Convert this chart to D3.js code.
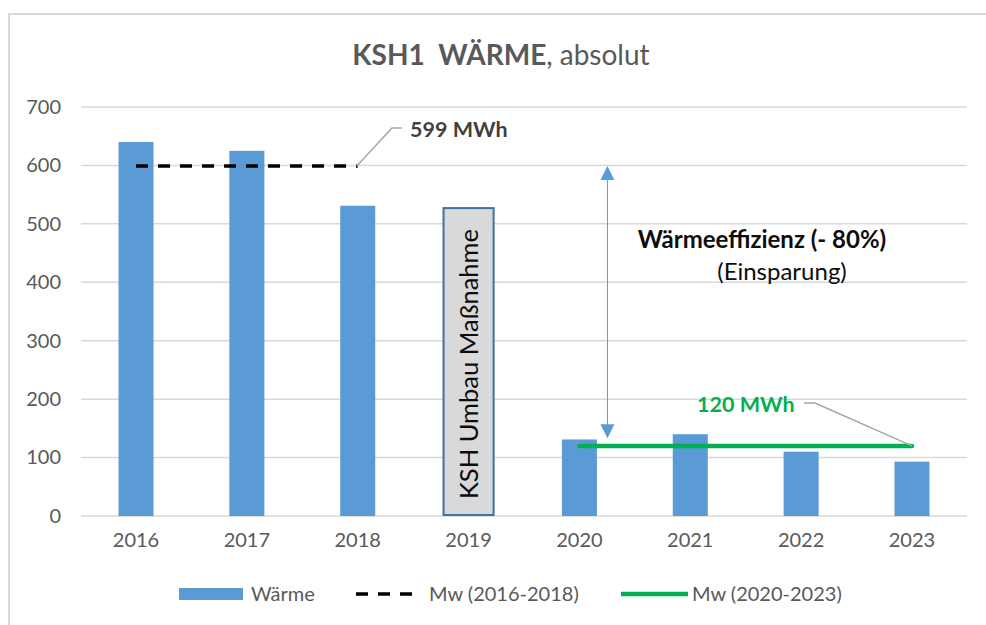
<!DOCTYPE html>
<html>
<head>
<meta charset="utf-8">
<title>KSH1 Wärme</title>
<script src="https://cdnjs.cloudflare.com/ajax/libs/d3/7.8.5/d3.min.js"></script>
<style>
    body { margin: 0; background: #fff; }
    text { font-family: Lato, 'Open Sans', sans-serif; }
</style>
</head>
<body>
<div id="chart"></div>
<script>
// ---------------- data ----------------
var years = ["2016", "2017", "2018", "2019", "2020", "2021", "2022", "2023"];
var waerme = [640, 625, 531, null, 131, 140, 110, 93];
var mean1 = 599;            // Mw (2016-2018)
var mean1Years = ["2016", "2018"];
var mean2 = 120;            // Mw (2020-2023)
var mean2Years = ["2020", "2023"];
var umbauYear = "2019";
var umbauValue = 527;       // height of the "KSH Umbau Maßnahme" box
var yTicks = [0, 100, 200, 300, 400, 500, 600, 700];

// ---------------- box ----------------
var W = 986, H = 625;
var svg = d3.select("#chart").append("svg")
    .attr("width", W)
    .attr("height", H);

// outer chart border
svg.append("rect")
    .attr("x", 9).attr("y", 14)
    .attr("width", W + 20).attr("height", H + 20)
    .attr("fill", "#fff")
    .attr("stroke", "#d9d9d9")
    .attr("stroke-width", 2);

// ---------------- scales ----------------
var x = d3.scaleBand()
    .domain(years)
    .range([80.6, 967.4])
    .paddingInner(0.684)
    .paddingOuter(0.342);

var y = d3.scaleLinear()
    .domain([0, 700])
    .range([516, 107]);

function cx(yr) { return x(yr) + x.bandwidth() / 2; }

// gridlines
svg.append("g").selectAll("line")
    .data(yTicks)
    .enter().append("line")
    .attr("x1", 81).attr("x2", 967)
    .attr("y1", function (d) { return y(d); })
    .attr("y2", function (d) { return y(d); })
    .attr("stroke", "#d9d9d9")
    .attr("stroke-width", 1.5);

// y axis labels
var yAxis = d3.axisLeft(y).tickValues(yTicks).tickSize(0).tickPadding(0);
svg.append("g")
    .attr("transform", "translate(61,0)")
    .call(yAxis)
    .call(function (g) { g.select(".domain").remove(); })
    .selectAll("text")
    .attr("font-family", "Lato, sans-serif")
    .attr("font-size", "20px")
    .attr("fill", "#595959");

// x axis labels
var xAxis = d3.axisBottom(x).tickSize(0).tickPadding(0);
svg.append("g")
    .attr("transform", "translate(0,533)")
    .call(xAxis)
    .call(function (g) { g.select(".domain").remove(); })
    .selectAll("text")
    .attr("font-family", "Lato, sans-serif")
    .attr("font-size", "20px")
    .attr("fill", "#595959");

// ---------------- bars ----------------
var barData = years.map(function (yr, i) { return { year: yr, value: waerme[i] }; })
    .filter(function (d) { return d.value != null; });

svg.append("g").selectAll("rect")
    .data(barData)
    .enter().append("rect")
    .attr("x", function (d) { return x(d.year); })
    .attr("width", x.bandwidth())
    .attr("y", function (d) { return y(d.value); })
    .attr("height", function (d) { return y(0) - y(d.value); })
    .attr("fill", "#5b9bd5");

// 2019 box
var boxW = x.bandwidth() * 1.43;
svg.append("rect")
    .attr("x", cx(umbauYear) - boxW / 2)
    .attr("y", y(umbauValue))
    .attr("width", boxW)
    .attr("height", y(0) - y(umbauValue) - 1)
    .attr("fill", "#d9d9d9")
    .attr("stroke", "#41719c")
    .attr("stroke-width", 2);

svg.append("text")
    .attr("transform", "translate(" + (cx(umbauYear) + 9) + "," + ((y(umbauValue) + y(0)) / 2 + 2) + ") rotate(-90)")
    .attr("text-anchor", "middle")
    .attr("font-size", "25.5px")
    .attr("fill", "#0d0d0d")
    .text("KSH Umbau Maßnahme");

// ---------------- mean lines ----------------
svg.append("line")
    .attr("x1", cx(mean1Years[0])).attr("x2", cx(mean1Years[1]))
    .attr("y1", y(mean1)).attr("y2", y(mean1))
    .attr("stroke", "#000")
    .attr("stroke-width", 3.5)
    .attr("stroke-dasharray", "12,10");

svg.append("line")
    .attr("x1", cx(mean2Years[0])).attr("x2", cx(mean2Years[1]))
    .attr("y1", y(mean2)).attr("y2", y(mean2))
    .attr("stroke", "#00b050")
    .attr("stroke-width", 4.5)
    .attr("stroke-linecap", "round");

// leader lines + value labels
svg.append("path")
    .attr("d", "M" + (cx(mean1Years[1]) - 1) + "," + y(mean1) + " L392,128 L402,128")
    .attr("fill", "none")
    .attr("stroke", "#a6a6a6")
    .attr("stroke-width", 1.5);

svg.append("text")
    .attr("x", 410).attr("y", 137)
    .attr("font-size", "21.5px")
    .attr("font-weight", "bold")
    .attr("fill", "#404040")
    .text(mean1 + " MWh");

svg.append("path")
    .attr("d", "M804,403 L815,403 L" + cx(mean2Years[1]) + "," + y(mean2))
    .attr("fill", "none")
    .attr("stroke", "#a6a6a6")
    .attr("stroke-width", 1.5);

svg.append("text")
    .attr("x", 697).attr("y", 412)
    .attr("font-size", "21.5px")
    .attr("font-weight", "bold")
    .attr("fill", "#00b050")
    .text(mean2 + " MWh");

// ---------------- savings arrow ----------------
var ax = cx("2020") + 28;
var yTop = y(mean1), yBot = y(133);
svg.append("line")
    .attr("x1", ax).attr("x2", ax)
    .attr("y1", yTop + 10).attr("y2", yBot - 10)
    .attr("stroke", "#5b9bd5")
    .attr("stroke-width", 1);
svg.append("path")
    .attr("d", "M" + ax + "," + yTop + " l7,14 l-14,0 z")
    .attr("fill", "#5b9bd5");
svg.append("path")
    .attr("d", "M" + ax + "," + yBot + " l7,-14 l-14,0 z")
    .attr("fill", "#5b9bd5");

svg.append("text")
    .attr("x", 762).attr("y", 248)
    .attr("text-anchor", "middle")
    .attr("font-size", "24px")
    .attr("font-weight", "bold")
    .attr("fill", "#0d0d0d")
    .text("Wärmeeffizienz (- 80%)");

svg.append("text")
    .attr("x", 782).attr("y", 280)
    .attr("text-anchor", "middle")
    .attr("font-size", "24px")
    .attr("fill", "#0d0d0d")
    .text("(Einsparung)");

// ---------------- title ----------------
var title = svg.append("text")
    .attr("x", 501).attr("y", 65)
    .attr("text-anchor", "middle")
    .attr("font-size", "28px")
    .attr("fill", "#595959")
    .style("white-space", "pre");
title.append("tspan").attr("font-weight", "bold").text("KSH1  WÄRME");
title.append("tspan").text(", absolut");

// ---------------- legend ----------------
var lg = svg.append("g").attr("font-size", "20px").attr("fill", "#595959");
lg.append("rect")
    .attr("x", 179).attr("y", 588)
    .attr("width", 64).attr("height", 12)
    .attr("fill", "#5b9bd5");
lg.append("text").attr("x", 251).attr("y", 601).text("Wärme");

lg.append("line")
    .attr("x1", 356).attr("x2", 420)
    .attr("y1", 594).attr("y2", 594)
    .attr("stroke", "#000")
    .attr("stroke-width", 3.5)
    .attr("stroke-dasharray", "12,10");
lg.append("text").attr("x", 429).attr("y", 601).text("Mw (2016-2018)");

lg.append("line")
    .attr("x1", 621).attr("x2", 688)
    .attr("y1", 594).attr("y2", 594)
    .attr("stroke", "#00b050")
    .attr("stroke-width", 4.5);
lg.append("text").attr("x", 692).attr("y", 601).text("Mw (2020-2023)");
</script>
</body>
</html>
